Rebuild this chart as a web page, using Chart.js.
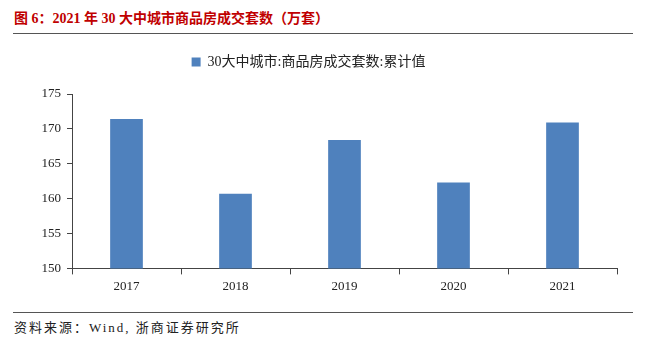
<!DOCTYPE html>
<html>
<head>
<meta charset="utf-8">
<script src="https://cdn.jsdelivr.net/npm/chart.js@4"></script>
<style>
  body { margin: 0; background: #fff; width: 645px; height: 341px; position: relative; overflow: hidden; }
  #title { position: absolute; left: 14px; top: 7px; font: bold 14px "Liberation Serif", "Noto Sans CJK SC", serif; color: #c00000; white-space: nowrap; }
  .rule { position: absolute; left: 13px; width: 620px; height: 1px; background: #555; }
  #source { position: absolute; left: 14px; top: 317px; font: 13px "Liberation Serif", "Noto Sans CJK SC", serif; color: #222; white-space: nowrap; letter-spacing: 2px; }
  #wrap { position: absolute; left: 0; top: 36px; width: 645px; height: 262px; }
</style>
</head>
<body>
<div id="title">图 6：2021 年 30 大中城市商品房成交套数（万套）</div>
<div class="rule" style="top:33px"></div>
<div id="wrap"><canvas id="c"></canvas></div>
<div class="rule" style="top:312px"></div>
<div id="source">资料来源：Wind, 浙商证券研究所</div>
<script>
const years = ['2017', '2018', '2019', '2020', '2021'];
const sales = [171.4, 160.7, 168.4, 162.3, 170.9];
const seriesName = '30大中城市:商品房成交套数:累计值';

const font = { family: '"Liberation Serif", "Noto Sans CJK SC", serif', size: 13 };

// extra room between the legend and the plot area
const legendGap = {
  id: 'legendGap',
  beforeInit(chart) {
    const fit = chart.legend.fit;
    chart.legend.fit = function () {
      fit.call(this);
      this.height += 15;
    };
  }
};

new Chart(document.getElementById('c'), {
  type: 'bar',
  data: {
    labels: years,
    datasets: [{
      label: seriesName,
      data: sales,
      backgroundColor: '#4f81bd',
      barPercentage: 0.3,
      categoryPercentage: 1
    }]
  },
  options: {
    responsive: true,
    maintainAspectRatio: false,
    animation: false,
    layout: { padding: { top: 0, right: 28, left: 0, bottom: 0 } },
    plugins: {
      legend: {
        labels: { boxWidth: 9, boxHeight: 9, color: '#222', font: { family: font.family, size: 14 }, padding: 19 }
      },
      tooltip: { enabled: false }
    },
    scales: {
      x: {
        grid: { drawOnChartArea: false, tickLength: 6, color: '#444' },
        border: { color: '#444' },
        ticks: { color: '#222', font: font, padding: 4 }
      },
      y: {
        min: 150,
        max: 175,
        ticks: { stepSize: 5, color: '#222', font: font, padding: 6 },
        grid: { drawOnChartArea: false, tickLength: 5, color: '#444' },
        border: { color: '#444' },
        afterFit: s => { s.width = 72; }
      }
    }
  },
  plugins: [legendGap]
});
</script>
</body>
</html>
